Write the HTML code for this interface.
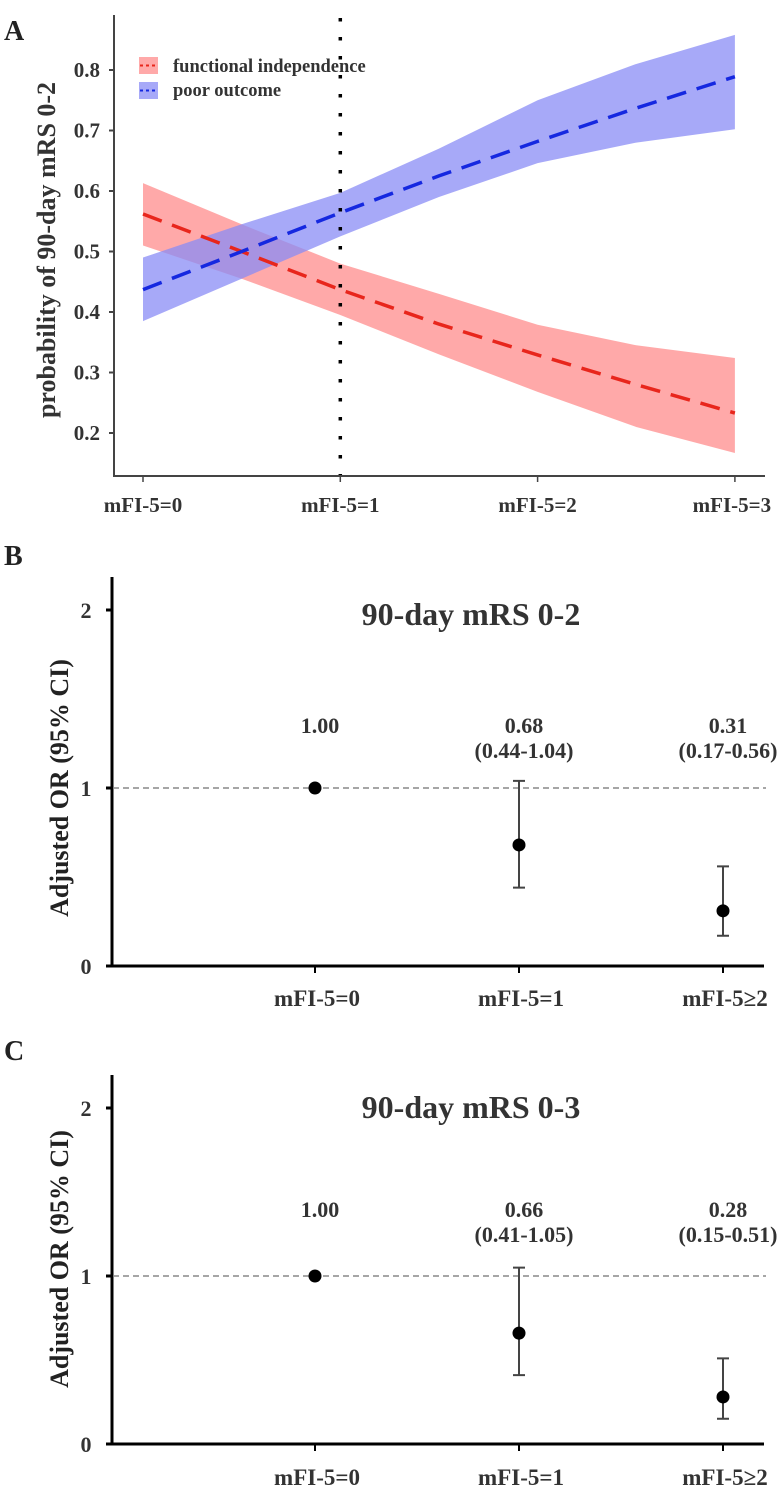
<!DOCTYPE html>
<html><head><meta charset="utf-8">
<style>
html,body{margin:0;padding:0;background:#fff;}
svg{display:block;font-family:"Liberation Serif",serif;font-weight:bold;}
</style></head>
<body>
<svg id="fig" width="783" height="1488" viewBox="0 0 783 1488" xmlns="http://www.w3.org/2000/svg">
<g id="pa"></g>
<g id="pb"></g>
<g id="pc"></g>
</svg>
<script>
// Panel A data
const aX = [0, 0.5, 1, 1.5, 2, 2.5, 3];
const aCatLabels = ["mFI-5=0", "mFI-5=1", "mFI-5=2", "mFI-5=3"];
const aYTicks = [0.2, 0.3, 0.4, 0.5, 0.6, 0.7, 0.8];
const redLine = [0.562, 0.500, 0.437, 0.380, 0.329, 0.280, 0.233];
const redLow = [0.510, 0.455, 0.395, 0.330, 0.268, 0.210, 0.167];
const redHigh = [0.613, 0.545, 0.480, 0.430, 0.379, 0.345, 0.324];
const blueLine = [0.437, 0.500, 0.564, 0.625, 0.682, 0.737, 0.789];
const blueLow = [0.385, 0.455, 0.525, 0.590, 0.646, 0.680, 0.702];
const blueHigh = [0.490, 0.545, 0.597, 0.670, 0.750, 0.810, 0.858];
// Panel B data
const bCats = ["mFI-5=0", "mFI-5=1", "mFI-5≥2"];
const bOR = [1.00, 0.68, 0.31];
const bLo = [null, 0.44, 0.17];
const bHi = [null, 1.04, 0.56];
const bVal = ["1.00", "0.68", "0.31"];
const bCI = ["", "(0.44-1.04)", "(0.17-0.56)"];
// Panel C data
const cCats = ["mFI-5=0", "mFI-5=1", "mFI-5≥2"];
const cOR = [1.00, 0.66, 0.28];
const cLo = [null, 0.41, 0.15];
const cHi = [null, 1.05, 0.51];
const cVal = ["1.00", "0.66", "0.28"];
const cCI = ["", "(0.41-1.05)", "(0.15-0.51)"];
const orTicks = [0, 1, 2];

const NS = "http://www.w3.org/2000/svg";
function mk(parent, tag, attrs, text) {
  const e = document.createElementNS(NS, tag);
  for (const k in attrs) e.setAttribute(k, attrs[k]);
  if (text !== undefined) e.textContent = text;
  parent.appendChild(e);
  return e;
}

// ---------- Panel A ----------
(function () {
  const g = document.getElementById('pa');
  const xA = v => 143 + v * 197.3;
  const yA = v => 70 + (0.8 - v) * 605;
  let t = mk(g, 'text', {x: 4, y: 40, 'font-size': 28, fill: '#222'}, 'A');
  
  
  function band(lo, hi, col, name) {
    let d = '';
    aX.forEach((x, i) => d += (i ? 'L' : 'M') + xA(x) + ',' + yA(hi[i]));
    for (let i = aX.length - 1; i >= 0; i--) d += 'L' + xA(aX[i]) + ',' + yA(lo[i]);
    const p = mk(g, 'path', {d: d + 'Z', fill: col, 'fill-opacity': 0.75});
    
    
  }
  function line(vals, col, name) {
    const pts = aX.map((x, i) => xA(x) + ',' + yA(vals[i])).join(' ');
    const p = mk(g, 'polyline', {points: pts, fill: 'none', stroke: col, 'stroke-width': 3.5, 'stroke-dasharray': '20 11'});
    
    
  }
  band(redLow, redHigh, '#ff8c8c', 'red-ci-band');
  band(blueLow, blueHigh, '#8a8cf5', 'blue-ci-band');
  line(redLine, '#e8261c', 'functional-independence-line');
  line(blueLine, '#1528e0', 'poor-outcome-line');
  const vl = mk(g, 'line', {x1: xA(1), y1: 18, x2: xA(1), y2: 476, stroke: '#000', 'stroke-width': 3.5, 'stroke-dasharray': '3.5 15.5'});
  
  
  const ya = mk(g, 'line', {x1: 114, y1: 15, x2: 114, y2: 477, stroke: '#444', 'stroke-width': 2});
  
  
  const xa = mk(g, 'line', {x1: 113, y1: 476, x2: 765, y2: 476, stroke: '#444', 'stroke-width': 2});
  
  
  aYTicks.forEach(v => {
    mk(g, 'line', {x1: 109, y1: yA(v), x2: 114, y2: yA(v), stroke: '#444', 'stroke-width': 2});
    const tt = mk(g, 'text', {x: 100, y: yA(v) + 7, 'font-size': 21, 'text-anchor': 'end', fill: '#333'}, v.toFixed(1));
    
    
  });
  aCatLabels.forEach((s, i) => {
    mk(g, 'line', {x1: xA(i), y1: 476, x2: xA(i), y2: 482, stroke: '#444', 'stroke-width': 1.5});
    const tt = mk(g, 'text', {x: xA(i) + (i === 3 ? -3 : 0), y: 512, 'font-size': 21, 'text-anchor': 'middle', fill: '#333'}, s);
    
    
  });
  const yt = mk(g, 'text', {x: 0, y: 0, 'font-size': 26, 'text-anchor': 'middle', fill: '#333', transform: 'translate(55,250) rotate(-90)'}, 'probability of 90-day mRS 0-2');
  
  
  // legend
  const lg = mk(g, 'g', {});
  
  
  mk(lg, 'rect', {x: 139, y: 57, width: 19, height: 17, fill: '#ff8c8c', 'fill-opacity': 0.75});
  mk(lg, 'line', {x1: 140, y1: 65.5, x2: 158, y2: 65.5, stroke: '#e8261c', 'stroke-width': 2, 'stroke-dasharray': '3 3'});
  mk(lg, 'rect', {x: 139, y: 82, width: 19, height: 17, fill: '#8a8cf5', 'fill-opacity': 0.75});
  mk(lg, 'line', {x1: 140, y1: 90.5, x2: 158, y2: 90.5, stroke: '#1528e0', 'stroke-width': 2, 'stroke-dasharray': '3 3'});
  mk(lg, 'text', {x: 173, y: 72, 'font-size': 18.5, fill: '#333'}, 'functional independence');
  mk(lg, 'text', {x: 173, y: 96, 'font-size': 18.5, fill: '#333'}, 'poor outcome');
})();

// ---------- Panels B & C ----------
function orPanel(id, letter, letterY, top, y0, y2, title, titleY, cats, or, lo, hi, vals, cis, valY, ytitleY, labY) {
  const g = document.getElementById(id);
  const xs = i => 315 + i * 204;
  const ys = v => y0 - v * (y0 - y2) / 2;
  const L = mk(g, 'text', {x: 4, y: letterY, 'font-size': 28, fill: '#222'}, letter);
  
  
  const ya = mk(g, 'line', {x1: 112, y1: top, x2: 112, y2: y0 + 1, stroke: '#000', 'stroke-width': 3});
  
  
  const xa = mk(g, 'line', {x1: 106, y1: y0, x2: 764, y2: y0, stroke: '#000', 'stroke-width': 3});
  
  
  orTicks.forEach(v => {
    mk(g, 'line', {x1: 106, y1: ys(v), x2: 112, y2: ys(v), stroke: '#000', 'stroke-width': 3});
    const tt = mk(g, 'text', {x: 86, y: ys(v) + 8, 'font-size': 22, 'text-anchor': 'middle', fill: '#333'}, String(v));
    
    
  });
  const ref = mk(g, 'line', {x1: 113, y1: ys(1), x2: 766, y2: ys(1), stroke: '#888', 'stroke-width': 1.5, 'stroke-dasharray': '6 4'});
  
  
  const tt = mk(g, 'text', {x: 471, y: titleY, 'font-size': 32, 'text-anchor': 'middle', fill: '#333'}, title);
  
  
  const yt = mk(g, 'text', {x: 0, y: 0, 'font-size': 26, 'text-anchor': 'middle', fill: '#222', transform: 'translate(68,' + ytitleY + ') rotate(-90)'}, 'Adjusted  OR (95% CI)');
  
  
  cats.forEach((c, i) => {
    const x = xs(i);
    mk(g, 'line', {x1: x, y1: y0, x2: x, y2: y0 + 7, stroke: '#000', 'stroke-width': 2});
    const cl = mk(g, 'text', {x: x + 2, y: labY, 'font-size': 23, 'text-anchor': 'middle', fill: '#333'}, c);
    
    
    if (lo[i] !== null) {
      const eb = mk(g, 'path', {d: 'M' + (x - 6) + ',' + ys(hi[i]) + 'H' + (x + 6) + 'M' + x + ',' + ys(hi[i]) + 'V' + ys(lo[i]) + 'M' + (x - 6) + ',' + ys(lo[i]) + 'H' + (x + 6), stroke: '#444', 'stroke-width': 2, fill: 'none'});
      
      
    }
    const pt = mk(g, 'circle', {cx: x, cy: ys(or[i]), r: 6.5, fill: '#000'});
    
    
    const vt = mk(g, 'text', {x: x + 5, y: valY, 'font-size': 22, 'text-anchor': 'middle', fill: '#333'}, vals[i]);
    
    
    if (cis[i]) {
      const ct = mk(g, 'text', {x: x + 5, y: valY + 25, 'font-size': 22, 'text-anchor': 'middle', fill: '#333'}, cis[i]);
      
      
    }
  });
}
orPanel('pb', 'B', 565, 577, 966, 610, '90-day mRS 0-2', 625, bCats, bOR, bLo, bHi, bVal, bCI, 733, 788, 1006);
orPanel('pc', 'C', 1060, 1075, 1444, 1108, '90-day mRS 0-3', 1118, cCats, cOR, cLo, cHi, cVal, cCI, 1217, 1259, 1485);
</script>
</body></html>
